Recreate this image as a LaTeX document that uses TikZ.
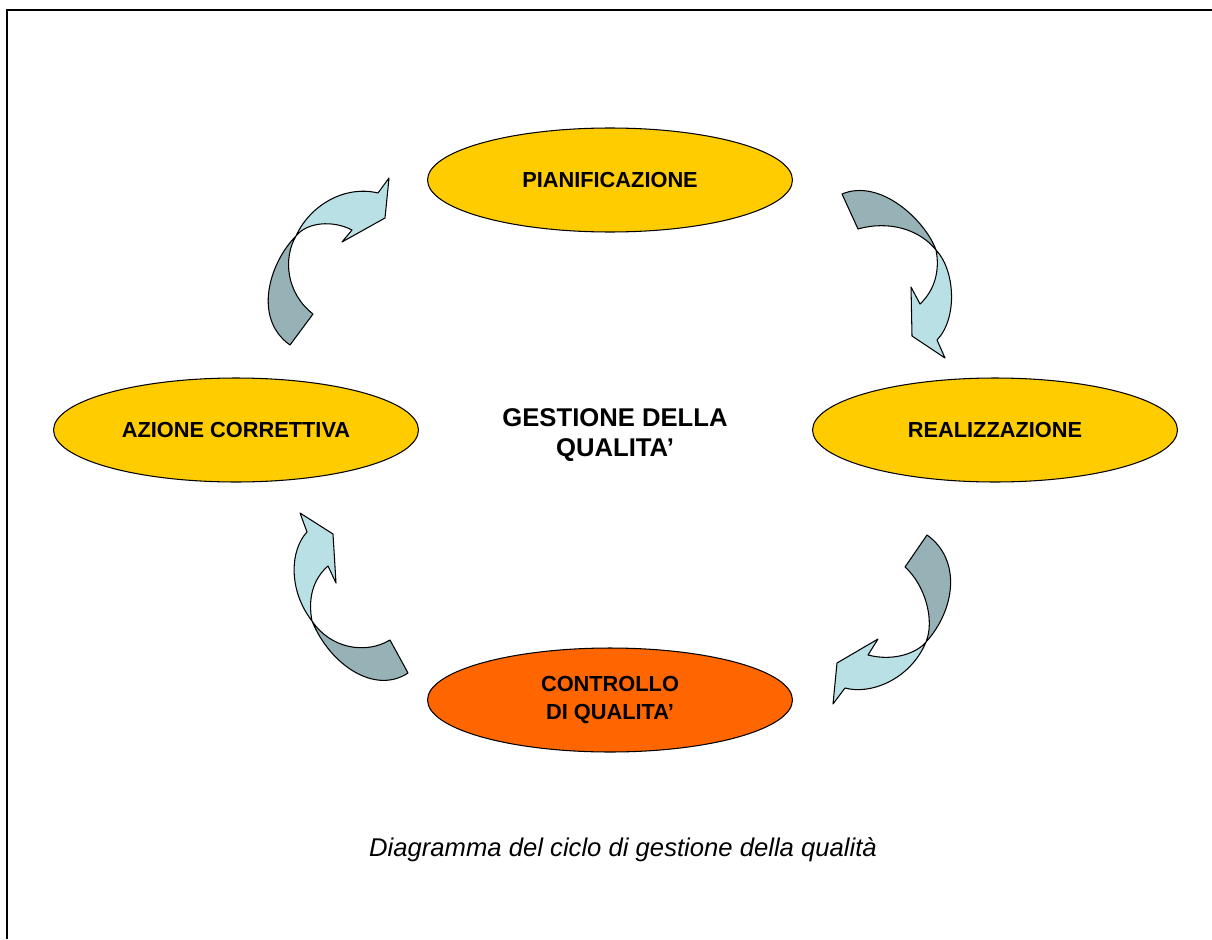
\documentclass[tikz,border=0pt]{standalone}
\usepackage{fontspec}
\setmainfont{Liberation Sans}
\usetikzlibrary{shapes.geometric}
\definecolor{giallo}{RGB}{255,204,0}
\definecolor{arancio}{RGB}{255,102,0}
\definecolor{chiaro}{RGB}{185,224,228}
\definecolor{scuro}{RGB}{150,178,182}

\begin{document}
\begin{tikzpicture}[x=0.02cm,y=-0.02cm,
    fase/.style={ellipse,draw,line width=0.6pt,fill=giallo,minimum width=7.3cm,minimum height=2.08cm,
        align=center,font=\fontsize{12.4}{16}\selectfont\bfseries},
    chiara/.style={fill=chiaro,draw,line width=0.6pt,line join=round},
    scura/.style={fill=scuro,draw,line width=0.6pt,line join=round}]
    \useasboundingbox (0,0) rectangle (1212,939);
    % Frame
    \draw[line width=0.9pt] (7,939) -- (7,10) -- (1212,10);
    % Phases
    \node[fase] (pian) at (610,180) {PIANIFICAZIONE};
    \node[fase] (real) at (995,430) {REALIZZAZIONE};
    \node[fase,fill=arancio] (contr) at (610,700) {CONTROLLO\\DI QUALITA’};
    \node[fase] (azione) at (236,430) {AZIONE CORRETTIVA};
    % Centre
    \node[align=center,font=\fontsize{14.6}{17}\selectfont\bfseries] (gest) at (615,435) {GESTIONE DELLA\\QUALITA’};
    % Top left arrow
    \draw[scura] (296,236) .. controls (270,262) and (252,318) .. (290,345) -- (313,314)
        .. controls (286,293) and (283,258) .. (296,236) -- cycle;
    \draw[chiara] (296,236) .. controls (310,205) and (345,185) .. (378,193) -- (389,178) -- (385,218)
        -- (342,242) -- (352,230) .. controls (333,220) and (307,222) .. (296,236) -- cycle;
    % Top right arrow
    \draw[scura] (842,194) -- (858,229) .. controls (890,220) and (920,230) .. (936,250)
        .. controls (925,220) and (880,178) .. (842,194) -- cycle;
    \draw[chiara] (936,250) .. controls (955,270) and (958,318) .. (937,340) -- (945,358) -- (912,336)
        -- (911,287) -- (920,304) .. controls (935,290) and (940,270) .. (936,250) -- cycle;
    % Bottom right arrow
    \draw[scura] (927,535) -- (905,567) .. controls (925,585) and (935,620) .. (926,642)
        .. controls (955,610) and (962,560) .. (927,535) -- cycle;
    \draw[chiara] (926,642) .. controls (910,680) and (870,695) .. (845,688) -- (833,704) -- (837,663)
        -- (878,639) -- (868,655) .. controls (895,662) and (918,652) .. (926,642) -- cycle;
    % Bottom left arrow
    \draw[chiara] (300,513) -- (333,534) -- (336,583) -- (328,566) .. controls (312,580) and (308,600) .. (312,621)
        .. controls (288,590) and (290,550) .. (307,532) -- cycle;
    \draw[scura] (312,621) .. controls (330,665) and (375,695) .. (408,673) -- (390,640)
        .. controls (365,655) and (330,648) .. (312,621) -- cycle;
    % Caption
    \node[font=\fontsize{14.6}{17}\selectfont\itshape] (didasc) at (623,850) {Diagramma del ciclo di gestione della qualità};
\end{tikzpicture}
\end{document}
